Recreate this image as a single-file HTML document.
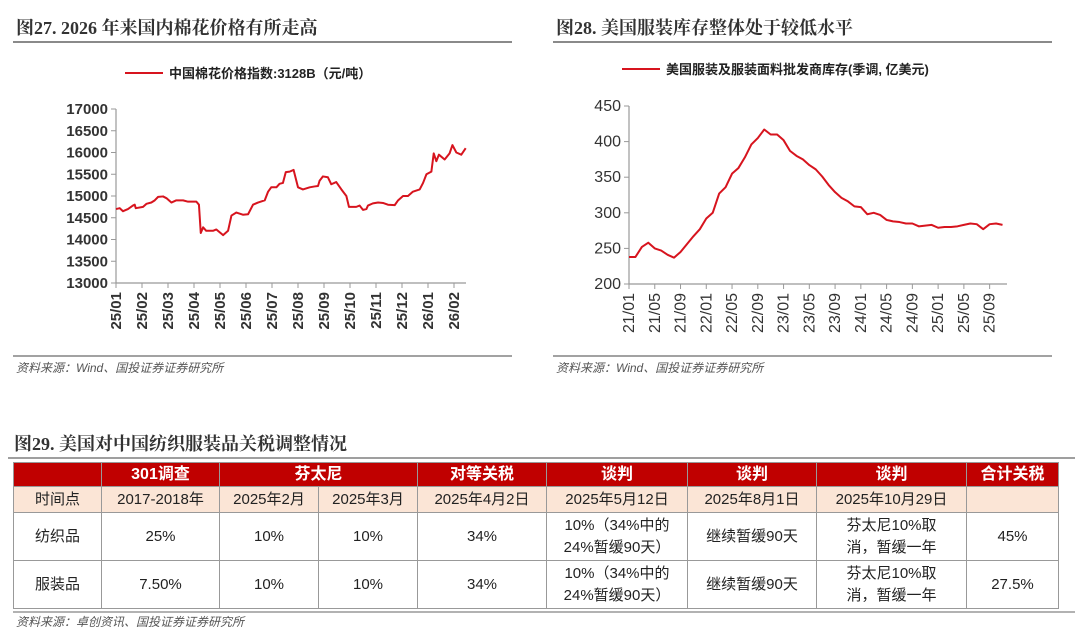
<!DOCTYPE html>
<html><head><meta charset="utf-8">
<style>
body{margin:0;width:1080px;height:635px;background:#fff;overflow:hidden;font-family:"Liberation Sans","Noto Sans CJK SC",sans-serif;}
svg text{font-family:"Liberation Sans","Noto Sans CJK SC",sans-serif;}
.ttl{font-family:"Liberation Serif","Noto Serif CJK SC",serif;font-weight:bold;font-size:18px;fill:#333;}
.src{font-family:"Liberation Sans","Noto Sans CJK SC",sans-serif;font-style:italic;font-size:12px;fill:#555;}
table{position:absolute;left:13px;top:462px;border-collapse:collapse;font-family:"Liberation Sans","Noto Sans CJK SC",sans-serif;font-size:15px;color:#222;table-layout:fixed;}
td{border:1px solid #999;text-align:center;padding:0;line-height:22px;}
tr.h td{background:#c00000;color:#fff;font-weight:bold;height:23px;font-size:16px;}
tr.t td{background:#fbe5d6;height:25px;}
tr.r td{height:47px;}
</style></head><body>
<svg width="1080" height="635" style="position:absolute;left:0;top:0">
<text class="ttl" x="16" y="34">图27. 2026 年来国内棉花价格有所走高</text>
<line x1="13" y1="42" x2="512" y2="42" stroke="#444" stroke-width="1.2"/>
<text class="ttl" x="556" y="34">图28. 美国服装库存整体处于较低水平</text>
<line x1="553" y1="42" x2="1052" y2="42" stroke="#444" stroke-width="1.2"/>
<line x1="13" y1="356" x2="512" y2="356" stroke="#444" stroke-width="1"/>
<line x1="553" y1="356" x2="1052" y2="356" stroke="#444" stroke-width="1"/>
<text class="src" x="16" y="372">资料来源：Wind、国投证券证券研究所</text>
<text class="src" x="556" y="372">资料来源：Wind、国投证券证券研究所</text>
<g id="c1"></g><g id="c2"></g>
<text class="ttl" x="14" y="450">图29. 美国对中国纺织服装品关税调整情况</text>
<line x1="8" y1="458" x2="1075" y2="458" stroke="#666" stroke-width="1.2"/>
<line x1="13" y1="612" x2="1075" y2="612" stroke="#666" stroke-width="1"/>
<text class="src" x="16" y="626">资料来源：卓创资讯、国投证券证券研究所</text>
</svg>
<table>
<colgroup><col style="width:88px"><col style="width:118px"><col style="width:99px"><col style="width:99px"><col style="width:129px"><col style="width:141px"><col style="width:129px"><col style="width:150px"><col style="width:92px"></colgroup>
<tr class="h"><td></td><td>301调查</td><td colspan="2">芬太尼</td><td>对等关税</td><td>谈判</td><td>谈判</td><td>谈判</td><td>合计关税</td></tr>
<tr class="t"><td>时间点</td><td>2017-2018年</td><td>2025年2月</td><td>2025年3月</td><td>2025年4月2日</td><td>2025年5月12日</td><td>2025年8月1日</td><td>2025年10月29日</td><td></td></tr>
<tr class="r"><td>纺织品</td><td>25%</td><td>10%</td><td>10%</td><td>34%</td><td>10%（34%中的<br>24%暂缓90天）</td><td>继续暂缓90天</td><td>芬太尼10%取<br>消，暂缓一年</td><td>45%</td></tr>
<tr class="r"><td>服装品</td><td>7.50%</td><td>10%</td><td>10%</td><td>34%</td><td>10%（34%中的<br>24%暂缓90天）</td><td>继续暂缓90天</td><td>芬太尼10%取<br>消，暂缓一年</td><td>27.5%</td></tr>
</table>
<script>
// Chart 27 data (x = months since 25/01)
const c1Months=[0,0.14,0.27,0.46,0.65,0.72,0.76,1.04,1.17,1.36,1.49,1.62,1.81,1.94,2.13,2.32,2.58,2.77,3.09,3.19,3.26,3.35,3.47,3.73,3.86,4.12,4.31,4.44,4.63,4.88,5.08,5.27,5.46,5.72,5.85,5.97,6.17,6.29,6.42,6.53,6.68,6.83,7.0,7.19,7.45,7.64,7.77,7.83,7.96,8.15,8.28,8.47,8.67,8.86,8.96,9.24,9.37,9.5,9.63,9.69,9.88,10.08,10.27,10.46,10.72,10.85,11.04,11.23,11.42,11.68,11.81,11.94,12.13,12.22,12.32,12.42,12.64,12.83,12.94,13.09,13.28,13.45];
const c1Values=[14700,14720,14650,14700,14780,14800,14720,14750,14820,14850,14900,14980,14990,14950,14850,14900,14900,14870,14870,14800,14150,14280,14200,14200,14230,14100,14200,14550,14620,14570,14580,14800,14850,14900,15100,15200,15200,15280,15300,15550,15560,15600,15200,15150,15200,15220,15230,15350,15450,15430,15270,15320,15150,15000,14750,14750,14780,14680,14700,14780,14830,14850,14840,14800,14790,14900,15000,15000,15100,15150,15300,15500,15560,15980,15800,15950,15840,15980,16170,16000,15950,16100];
const c1Ticks=[13000,13500,14000,14500,15000,15500,16000,16500,17000];
const c1Cats=["25/01","25/02","25/03","25/04","25/05","25/06","25/07","25/08","25/09","25/10","25/11","25/12","26/01","26/02"];
// Chart 28 data (monthly from 21/01)
const c2Values=[238,238,252,258,250,247,241,237,245,256,267,277,292,300,327,336,355,363,378,396,405,417,410,410,402,387,380,375,367,361,351,339,329,321,316,309,308,298,300,297,290,288,287,285,285,281,282,283,279,280,280,281,283,285,284,277,284,285,283];
const c2Ticks=[200,250,300,350,400,450];
const c2Cats=["21/01","21/05","21/09","22/01","22/05","22/09","23/01","23/05","23/09","24/01","24/05","24/09","25/01","25/05","25/09"];
const NS="http://www.w3.org/2000/svg";
function mk(p,t,a){const e=document.createElementNS(NS,t);for(const k in a)e.setAttribute(k,a[k]);p.appendChild(e);return e;}
function chart(g,o){
  const y=v=>o.y0+(v-o.vmin)/(o.vmax-o.vmin)*(o.y1-o.y0);
  const x=m=>o.x0+m*o.pxPer;
  const ax=mk(g,'line',{x1:o.x0,y1:o.y1,x2:o.x0,y2:o.y0,stroke:'#999','stroke-width':1.2});
  
  
  const bx=mk(g,'line',{x1:o.x0,y1:o.y0,x2:o.xEnd,y2:o.y0,stroke:'#999','stroke-width':1.2});
  
  
  o.ticks.forEach(t=>{
    mk(g,'line',{x1:o.x0-5,x2:o.x0,y1:y(t),y2:y(t),stroke:'#999'});
    const tx=mk(g,'text',{x:o.x0-8,y:y(t)+5,'text-anchor':'end','font-size':o.fs,fill:'#333','font-weight':o.fw});
    tx.textContent=t;
    
    
  });
  o.cats.forEach((c,i)=>{
    const xx=x(i*o.catStep);
    mk(g,'line',{x1:xx,x2:xx,y1:o.y0,y2:o.y0+5,stroke:'#999'});
    const tx=mk(g,'text',{transform:`translate(${xx+5},${o.y0+9}) rotate(-90)`,'text-anchor':'end','font-size':o.fs,fill:'#333','font-weight':o.fw});
    tx.textContent=c;
    
    
  });
  const pts=o.vals.map((v,i)=>x(o.xs?o.xs[i]:i)+','+y(v)).join(' ');
  const pl=mk(g,'polyline',{points:pts,fill:'none',stroke:'#d7141e','stroke-width':2,'stroke-linejoin':'round'});
  
  
  mk(g,'line',{x1:o.lx,x2:o.lx+38,y1:o.ly,y2:o.ly,stroke:'#d7141e','stroke-width':2});
  const lt=mk(g,'text',{x:o.lx+44,y:o.ly+5,'font-size':13,fill:'#222','font-weight':'bold'});
  lt.textContent=o.legend;
  
  
}
chart(document.getElementById('c1'),{id:'chart27',x0:116,xEnd:466,y0:283,y1:109,vmin:13000,vmax:17000,pxPer:26,catStep:1,ticks:c1Ticks,cats:c1Cats,vals:c1Values,xs:c1Months,fs:15,fw:'bold',lx:125,ly:73,legend:'中国棉花价格指数:3128B（元/吨）'});
chart(document.getElementById('c2'),{id:'chart28',x0:629,xEnd:1007,y0:284,y1:106,vmin:200,vmax:450,pxPer:6.44,catStep:4,ticks:c2Ticks,cats:c2Cats,vals:c2Values,fs:16,fw:'normal',lx:622,ly:69,legend:'美国服装及服装面料批发商库存(季调, 亿美元)'});
</script>
</body></html>
